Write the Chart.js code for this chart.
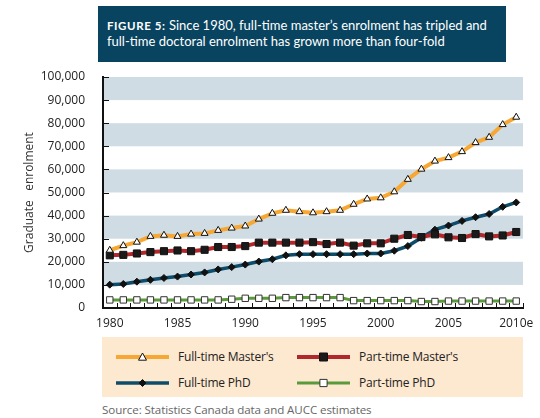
<!DOCTYPE html>
<html>
<head>
<meta charset="utf-8">
<script src="https://cdn.jsdelivr.net/npm/chart.js@4.4.0/dist/chart.umd.min.js"></script>
<style>
  body { margin: 0; background: #fff; width: 540px; height: 418px; overflow: hidden; position: relative; font-family: "Open Sans", sans-serif; }
  #titleBox { position: absolute; left: 98px; top: 6px; width: 408px; height: 56px; background: #08445f; z-index: 2; }
  #titleBox div { position: absolute; left: 9px; color: #fff; font-family: Lato, sans-serif; font-size: 13px; white-space: nowrap; }
  #titleBox b { font-size: 11.5px; letter-spacing: 0.6px; }
  #chartWrap { position: absolute; left: 0; top: 0; width: 540px; height: 340px; }
  #legendBox { position: absolute; left: 102px; top: 337px; width: 421px; height: 60px; background: #fde8d0; }
  .item { position: absolute; height: 16px; }
  .item canvas { position: absolute; left: 0; top: 0; }
  .item span { position: absolute; left: 62px; top: -1px; font-size: 12px; color: #222; white-space: nowrap; font-family: "Open Sans", sans-serif; letter-spacing: -0.2px; }
  #source { position: absolute; left: 102px; top: 402px; font-size: 11.6px; color: #666; font-family: "Open Sans", sans-serif; letter-spacing: -0.1px; }
</style>
</head>
<body>
<div id="titleBox">
  <div style="top:11px"><b>FIGURE 5:</b> Since 1980, full-time master’s enrolment has tripled and</div>
  <div style="top:27px">full-time doctoral enrolment has grown more than four-fold</div>
</div>
<div id="chartWrap"><canvas id="myChart" width="540" height="340"></canvas></div>
<div id="legendBox"></div>
<div id="source">Source: Statistics Canada data and AUCC estimates</div>

<script>
let years = ["1980","1981","1982","1983","1984","1985","1986","1987","1988","1989",
             "1990","1991","1992","1993","1994","1995","1996","1997","1998","1999",
             "2000","2001","2002","2003","2004","2005","2006","2007","2008","2009","2010e"];

let ftMasters = [25000,27000,28500,31000,31500,31000,32000,32300,33600,34600,
                 35500,38500,41000,42300,41700,41200,41700,42300,44900,47200,
                 47700,50300,55700,60100,63600,65100,67700,71600,73900,79400,82600];
let ptMasters = [22800,23000,23600,24200,24600,24900,24600,25200,26400,26400,
                 26800,28300,28300,28300,28300,28500,27700,28300,27000,28000,
                 28000,30000,31600,30700,31900,30600,30300,32000,31000,31400,32900];
let ftPhd = [10100,10400,11400,12200,13000,13600,14500,15400,16700,17700,
             18800,20100,21100,22800,23300,23300,23300,23300,23300,23600,
             23600,24800,26800,30400,33900,35700,37700,39300,40700,43800,45700];
let ptPhd = [3500,3500,3500,3500,3500,3500,3500,3500,3500,3800,
             4200,4200,4200,4500,4500,4500,4500,4500,3200,3200,
             3200,3200,3200,2800,2800,3000,3000,3000,3000,3000,3000];

let seriesNames = ["Full-time Master's", "Part-time Master's", "Full-time PhD", "Part-time PhD"];
let yTicks = [0,10000,20000,30000,40000,50000,60000,70000,80000,90000,100000];

let series = [
  { name: seriesNames[0], data: ftMasters, color: "#f7a734", width: 4, style: "triangle", radius: 4, fill: "#ffffff", border: "#111" },
  { name: seriesNames[1], data: ptMasters, color: "#b0282b", width: 4, style: "rect", radius: 5, fill: "#1a1a1a", border: "#111" },
  { name: seriesNames[2], data: ftPhd, color: "#0e4c6a", width: 3.5, style: "rectRot", radius: 3.5, fill: "#111", border: "#111" },
  { name: seriesNames[3], data: ptPhd, color: "#5b9a3a", width: 3, style: "rect", radius: 4.5, fill: "#ffffff", border: "#333" }
];

// grey bands behind the plot
let bandsPlugin = {
  id: "bands",
  beforeDraw(chart) {
    let ctx = chart.ctx, a = chart.chartArea, y = chart.scales.y;
    ctx.save();
    for (let i = 0; i < yTicks.length - 1; i++) {
      if (i % 2 === 1) {
        let top = y.getPixelForValue(yTicks[i + 1]);
        let bot = y.getPixelForValue(yTicks[i]);
        ctx.fillStyle = "#cfdce3";
        ctx.fillRect(a.left, top, a.right - a.left, bot - top);
      }
    }
    ctx.restore();
  }
};

// inward tick marks on both axes
let ticksPlugin = {
  id: "inTicks",
  beforeDatasetsDraw(chart) {
    let ctx = chart.ctx, a = chart.chartArea, x = chart.scales.x, y = chart.scales.y;
    ctx.save();
    ctx.strokeStyle = "#111";
    ctx.lineWidth = 1;
    ctx.beginPath();
    for (let v of yTicks) {
      let py = Math.round(y.getPixelForValue(v)) + 0.5;
      ctx.moveTo(a.left, py);
      ctx.lineTo(a.left + 6, py);
    }
    for (let i = 0; i <= years.length; i++) {
      let px = Math.round(x.getPixelForValue(i - 0.5)) + 0.5;
      ctx.moveTo(px, a.bottom);
      ctx.lineTo(px, a.bottom - 5);
    }
    ctx.stroke();
    ctx.restore();
  }
};

let datasets = series.map(function (s, i) {
  return {
    label: s.name,
    data: s.data,
    borderColor: s.color,
    borderWidth: s.width,
    pointStyle: s.style,
    pointRadius: s.radius,
    pointBackgroundColor: s.fill,
    pointBorderColor: s.border,
    pointBorderWidth: 1,
    fill: false,
    tension: 0,
    order: i
  };
});

let config = {
  type: "line",
  data: { labels: years, datasets: datasets },
  options: {
    responsive: false,
    animation: false,
    layout: { padding: { top: 77, right: 17, left: 0, bottom: 0 } },
    plugins: {
      legend: { display: false },
      tooltip: { enabled: false }
    },
    scales: {
      x: {
        offset: true,
        grid: { display: false },
        border: { color: "#111", width: 2 },
        ticks: {
          autoSkip: false,
          maxRotation: 0,
          padding: 0,
          color: "#222",
          font: { family: "Open Sans", size: 12 },
          callback: function (v, i) {
            return i % 5 === 0 ? years[i] : "";
          }
        },
        afterFit: function (scale) { scale.height = 32; }
      },
      y: {
        min: 0,
        max: 100000,
        grid: { display: false },
        border: { color: "#111", width: 2 },
        afterBuildTicks: function (scale) {
          scale.ticks = yTicks.map(v => ({ value: v }));
        },
        ticks: {
          padding: 10,
          color: "#222",
          font: { family: "Open Sans", size: 12 },
          callback: function (v) { return v.toLocaleString("en-US"); }
        },
        title: {
          display: true,
          text: "Graduate   enrolment",
          color: "#333",
          font: { family: "Open Sans", size: 12 },
          padding: { top: 22, bottom: 0 }
        },
        afterFit: function (scale) { scale.width = 103; }
      }
    }
  },
  plugins: [bandsPlugin, ticksPlugin]
};

let ctx = document.getElementById("myChart").getContext("2d");
let myChart = new Chart(ctx, config);

// legend boxes
function drawMarker(c, s, cx, cy) {
  c.fillStyle = s.fill;
  c.strokeStyle = s.border;
  c.lineWidth = 1;
  c.beginPath();
  let r = s.radius;
  if (s.style === "triangle") {
    c.moveTo(cx, cy - r);
    c.lineTo(cx + r, cy + r * 0.8);
    c.lineTo(cx - r, cy + r * 0.8);
    c.closePath();
  } else if (s.style === "rectRot") {
    c.moveTo(cx, cy - r);
    c.lineTo(cx + r, cy);
    c.lineTo(cx, cy + r);
    c.lineTo(cx - r, cy);
    c.closePath();
  } else {
    c.rect(cx - r * 0.8, cy - r * 0.8, r * 1.6, r * 1.6);
  }
  c.fill();
  c.stroke();
}

let legendBox = document.getElementById("legendBox");
let legendPos = [[14, 12], [195, 12], [14, 38], [195, 38]];
series.forEach(function (s, i) {
  let item = document.createElement("div");
  item.className = "item";
  item.style.left = legendPos[i][0] + "px";
  item.style.top = legendPos[i][1] + "px";
  let cv = document.createElement("canvas");
  cv.width = 56; cv.height = 16;
  let c = cv.getContext("2d");
  c.strokeStyle = s.color;
  c.lineWidth = s.width;
  c.beginPath();
  c.moveTo(0, 8);
  c.lineTo(53, 8);
  c.stroke();
  drawMarker(c, s, 26.5, 8);
  item.appendChild(cv);
  let label = document.createElement("span");
  label.textContent = s.name;
  item.appendChild(label);
  legendBox.appendChild(item);
});
</script>
</body>
</html>
